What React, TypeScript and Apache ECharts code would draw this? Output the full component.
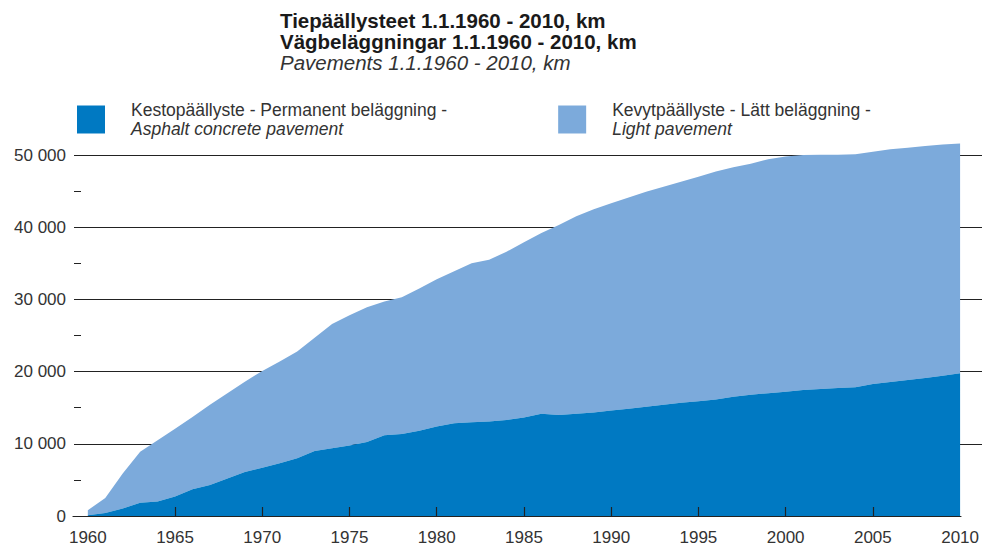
import { useEffect, useRef } from 'react';
import * as echarts from 'echarts';

const years = [
  1960, 1961, 1962, 1963, 1964, 1965, 1966, 1967, 1968, 1969,
  1970, 1971, 1972, 1973, 1974, 1975, 1976, 1977, 1978, 1979,
  1980, 1981, 1982, 1983, 1984, 1985, 1986, 1987, 1988, 1989,
  1990, 1991, 1992, 1993, 1994, 1995, 1996, 1997, 1998, 1999,
  2000, 2001, 2002, 2003, 2004, 2005, 2006, 2007, 2008, 2009, 2010,
];

// Kestopäällyste - Permanent beläggning - Asphalt concrete pavement (km)
const kestoValues = [
  100, 400, 1050, 1850, 2000, 2700, 3700, 4300, 5200, 6100,
  6700, 7300, 8000, 9000, 9400, 9750, 10250, 11200, 11350, 11800,
  12400, 12850, 13000, 13100, 13300, 13650, 14170, 14000, 14170, 14350,
  14600, 14850, 15140, 15420, 15700, 15880, 16150, 16530, 16800, 17000,
  17220, 17450, 17600, 17730, 17820, 18280, 18560, 18840, 19110, 19440, 19760,
];

// Kevytpäällyste - Lätt beläggning - Light pavement (km)
const kevytValues = [
  700, 2100, 4850, 7050, 8500, 9400, 10000, 11100, 11800, 12500,
  13400, 14100, 14800, 15700, 17200, 18050, 18650, 18500, 18950, 19700,
  20400, 21050, 22000, 22400, 23300, 24250, 25030, 26300, 27330, 28150,
  28700, 29250, 29760, 30180, 30600, 31120, 31550, 31770, 32000, 32400,
  32580, 32550, 32450, 32320, 32280, 32170, 32240, 32160, 32140, 32010, 31840,
];

const xLabelYears = [1960, 1965, 1970, 1975, 1980, 1985, 1990, 1995, 2000, 2005, 2010];
const xTickYears = [1965, 1970, 1975, 1980, 1985, 1990, 1995, 2000, 2005];

const titleLines = [
  'Tiepäällysteet 1.1.1960 - 2010, km',
  'Vägbeläggningar 1.1.1960 - 2010, km',
  'Pavements 1.1.1960 - 2010, km',
];

const kestoName = 'Kestopäällyste';
const kevytName = 'Kevytpäällyste';
const legendLines: Record<string, [string, string]> = {
  [kestoName]: ['Kestopäällyste - Permanent beläggning -', 'Asphalt concrete pavement'],
  [kevytName]: ['Kevytpäällyste - Lätt beläggning -', 'Light pavement'],
};

const FONT = '"Liberation Sans", Arial, Helvetica, sans-serif';
const DARK = '#0079c2';
const LIGHT = '#7caadb';

export default function App() {
  const ref = useRef<HTMLDivElement>(null);

  useEffect(() => {
    if (!ref.current) return;
    const chart = echarts.init(ref.current, undefined, { renderer: 'svg' });

    const legendRich = {
      a: { fontFamily: FONT, fontSize: 17.5, color: '#333', padding: [0, 0, 0, 21], lineHeight: 19 },
      b: { fontFamily: FONT, fontSize: 17.5, color: '#333', fontStyle: 'italic', padding: [0, 0, 0, 21], lineHeight: 19 },
    };
    const legendFormatter = (name: string) => {
      const l = legendLines[name];
      return `{a|${l[0]}}\n{b|${l[1]}}`;
    };

    chart.setOption({
      animation: false,
      backgroundColor: '#fff',
      title: {
        left: 280,
        top: 10,
        padding: 0,
        text: `{a|${titleLines[0]}}\n{a|${titleLines[1]}}\n{b|${titleLines[2]}}`,
        textStyle: {
          rich: {
            a: { fontFamily: FONT, fontSize: 20.5, fontWeight: 'bold', color: '#1a1a1a', lineHeight: 21 },
            b: { fontFamily: FONT, fontSize: 20.5, fontWeight: 'normal', fontStyle: 'italic', color: '#333', lineHeight: 21 },
          },
        },
      },
      legend: {
        left: 77,
        top: 101,
        padding: 0,
        orient: 'horizontal',
        icon: 'rect',
        itemWidth: 28,
        itemHeight: 28,
        itemGap: 111,
        selectedMode: false,
        data: [kestoName, kevytName],
        formatter: legendFormatter,
        textStyle: { rich: legendRich },
      },
      grid: [
        { left: 74, right: 0, top: 155, bottom: 30, containLabel: false },
        { left: 73, right: 16.4, top: 118.9, bottom: 30, containLabel: false },
      ],
      xAxis: [
        { gridIndex: 0, type: 'value', min: 0, max: 1, show: false },
        {
          gridIndex: 1,
          type: 'value',
          min: 1959.15,
          max: 2010.05,
          z: 10,
          splitLine: { show: false },
          axisLine: { show: true, lineStyle: { color: '#222', width: 1.2 } },
          axisTick: {
            show: true,
            inside: true,
            length: 9,
            customValues: xTickYears,
            lineStyle: { color: '#222', width: 1.2 },
          },
          axisLabel: {
            show: true,
            customValues: xLabelYears,
            margin: 13,
            fontFamily: FONT,
            fontSize: 17,
            color: '#333',
            formatter: (v: number) => String(v),
          },
        },
      ],
      yAxis: [
        {
          gridIndex: 0,
          type: 'value',
          min: 0,
          max: 50000,
          interval: 10000,
          axisLine: { show: false },
          axisTick: { show: true, inside: true, length: 7, lineStyle: { color: '#222' } },
          minorTick: { show: true, splitNumber: 2, length: 7, lineStyle: { color: '#222' } },
          splitLine: { show: true, showMinLine: false, lineStyle: { color: '#222', width: 1.2 } },
          axisLabel: {
            margin: 8,
            fontFamily: FONT,
            fontSize: 17,
            color: '#333',
            formatter: (v: number) => (v === 0 ? '0' : `${v / 1000} 000`),
          },
        },
        {
          gridIndex: 1,
          type: 'value',
          min: 0,
          max: 55000,
          show: false,
          splitLine: { show: false },
        },
      ],
      series: [
        {
          name: kestoName,
          type: 'line',
          xAxisIndex: 1,
          yAxisIndex: 1,
          stack: 'total',
          symbol: 'none',
          lineStyle: { width: 0 },
          itemStyle: { color: DARK },
          areaStyle: { color: DARK, opacity: 1 },
          // value first so that the stack is applied to the y (value) dimension
          encode: { x: 1, y: 0 },
          data: years.map((y, i) => [kestoValues[i], y]),
          z: 3,
        },
        {
          name: kevytName,
          type: 'line',
          xAxisIndex: 1,
          yAxisIndex: 1,
          stack: 'total',
          symbol: 'none',
          lineStyle: { width: 0 },
          itemStyle: { color: LIGHT },
          areaStyle: { color: LIGHT, opacity: 1 },
          encode: { x: 1, y: 0 },
          data: years.map((y, i) => [kevytValues[i], y]),
          z: 2,
        },
      ],
    });

    return () => chart.dispose();
  }, []);

  return (
    <div
      ref={ref}
      style={{ position: 'fixed', left: 0, top: 0, width: 982, height: 546, background: '#fff' }}
    />
  );
}
